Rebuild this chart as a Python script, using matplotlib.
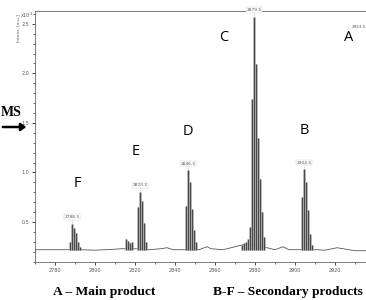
import matplotlib
matplotlib.use("Agg")
import matplotlib.pyplot as plt
from matplotlib.ticker import MultipleLocator

# isotope clusters (m/z, intensity x10^4)
mz_F = [2787.5, 2788.5, 2789.5, 2790.5, 2791.5, 2792.5]
int_F = [0.30, 0.48, 0.44, 0.39, 0.30, 0.25]
mz_E = [2815.5, 2816.5, 2817.5, 2818.5, 2821.5, 2822.5, 2823.5, 2824.5, 2825.5]
int_E = [0.33, 0.31, 0.29, 0.30, 0.65, 0.80, 0.71, 0.49, 0.30]
mz_D = [2845.5, 2846.5, 2847.5, 2848.5, 2849.5, 2850.5]
int_D = [0.66, 1.02, 0.90, 0.63, 0.42, 0.30]
mz_C = [2873.5, 2874.5, 2875.5, 2876.5, 2877.5, 2878.5, 2879.5, 2880.5, 2881.5, 2882.5, 2883.5, 2884.5]
int_C = [0.27, 0.29, 0.30, 0.33, 0.45, 1.74, 2.57, 2.09, 1.35, 0.93, 0.60, 0.35]
mz_B = [2903.5, 2904.5, 2905.5, 2906.5, 2907.5, 2908.5]
int_B = [0.75, 1.03, 0.90, 0.62, 0.38, 0.27]

# baseline trace
base_x = [2770, 2785, 2793, 2800, 2805, 2810, 2813, 2820, 2827, 2833, 2836, 2839, 2844,
          2852, 2856, 2858, 2864, 2870, 2876, 2886, 2890, 2894, 2897, 2902, 2911, 2915,
          2921, 2924, 2930, 2936]
base_y = [0.22, 0.22, 0.22, 0.215, 0.22, 0.225, 0.23, 0.23, 0.22, 0.23, 0.24, 0.22, 0.22,
          0.22, 0.25, 0.23, 0.22, 0.25, 0.28, 0.24, 0.22, 0.25, 0.22, 0.22, 0.22, 0.215,
          0.24, 0.23, 0.21, 0.21]

# labelled peaks
peak_mz = [2788.5, 2822.5, 2846.5, 2879.5, 2904.5]
peak_int = [0.48, 0.80, 1.02, 2.57, 1.03]
peak_lbl = ["2788.5", "2823.5", "2846.5", "2879.5", "2904.5"]

# product letters
letters = ["F", "E", "D", "C", "B", "A"]
letter_x = [2791, 2820.5, 2846.5, 2864.5, 2904.5, 2927]
letter_y = [0.89, 1.21, 1.41, 2.36, 1.42, 2.36]

fig = plt.figure(figsize=(3.66, 3.0), dpi=100)
ax = fig.add_axes([35/366, 38/300, 331/366, 251/300])

ax.plot(base_x, base_y, color="#555555", lw=0.6)
for mz, it in [(mz_F, int_F), (mz_E, int_E), (mz_D, int_D), (mz_C, int_C), (mz_B, int_B)]:
    ax.vlines(mz, 0.22, it, color="#a0a0a0", lw=1.8)
    ax.vlines(mz, 0.22, it, color="#222222", lw=0.5)

for x, y, t in zip(peak_mz, peak_int, peak_lbl):
    ax.plot([x, x], [y, y + 0.05], color="#999999", lw=0.5, ls=":")
    ax.text(x, y + 0.05, t, fontsize=3.2, color="#555555", ha="center", va="bottom",
            bbox=dict(boxstyle="square,pad=0.15", fc="white", ec="#cccccc", lw=0.3))
ax.text(2935.3, 2.45, "2953.5", fontsize=3.0, color="#555555", ha="right", va="bottom")

for t, x, y in zip(letters, letter_x, letter_y):
    ax.text(x, y, t, fontsize=10.5, family="Open Sans", ha="center", va="center")

ax.set_xlim(2770, 2935.5)
ax.set_ylim(0.096, 2.63)
ax.xaxis.set_major_locator(MultipleLocator(20))
ax.xaxis.set_minor_locator(MultipleLocator(10))
ax.yaxis.set_major_locator(MultipleLocator(0.5))
ax.yaxis.set_minor_locator(MultipleLocator(0.1))
ax.tick_params(labelsize=3.5, labelcolor="#555555", length=2, width=0.5, pad=2)
ax.tick_params(which="minor", length=1.2, width=0.4)
ax.spines["right"].set_visible(False)
for s in ["left", "bottom", "top"]:
    ax.spines[s].set_linewidth(0.6)
    ax.spines[s].set_color("#666666")

ax.text(-0.005, 1.0, "x10$^4$", transform=ax.transAxes, fontsize=3.5, color="#555555",
        ha="right", va="top")
fig.text(18/366, 1 - 28/300, "Intens. [a.u.]", fontsize=3.2, color="#555555",
         rotation=90, ha="center", va="center")

fig.text(22/366, 1 - 112/300, "MS", fontsize=10, family="Liberation Serif", weight="bold",
         ha="right", va="center")
fig.add_artist(matplotlib.patches.FancyArrowPatch((0/366, 1 - 127/300), (29/366, 1 - 127/300),
               transform=fig.transFigure, arrowstyle="-|>,head_length=3,head_width=2.2",
               color="black", lw=1.8))

fig.text(104/366, 1 - 292/300, "A \u2013 Main product", fontsize=9.7, family="Liberation Serif",
         weight="bold", ha="center", va="center")
fig.text(288/366, 1 - 292/300, "B-F \u2013 Secondary products", fontsize=9.7,
         family="Liberation Serif", weight="bold", ha="center", va="center")

fig.savefig("out.png", dpi=100)
